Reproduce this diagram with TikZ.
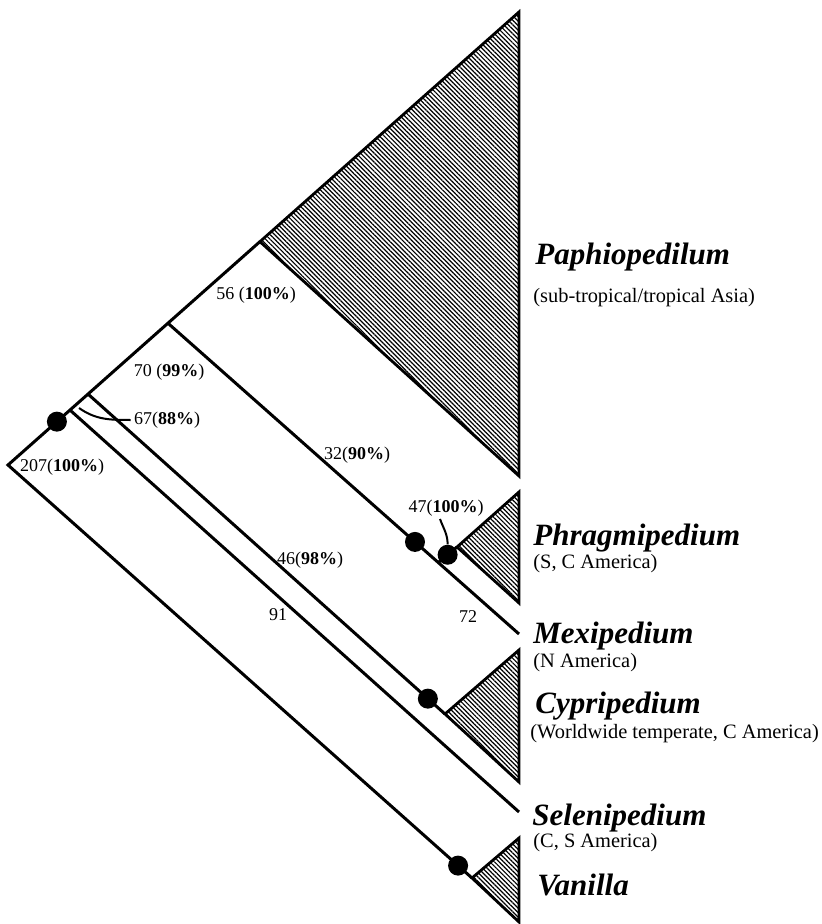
\documentclass[tikz,border=0pt]{standalone}
\usepackage{fontspec}
\setmainfont{Liberation Serif}
\usepackage{tikz}
\usetikzlibrary{calc,patterns.meta}
\definecolor{ink}{RGB}{0,0,0}

\tikzset{
    branch/.style={draw=ink, line width=1.5pt},
    clade/.style={draw=ink, line width=1.4pt, line join=miter,
        pattern={Lines[angle=-45,distance=1.6pt,line width=0.6pt]}, pattern color=ink},
    syn/.style={circle, fill=ink, inner sep=0pt, minimum size=10pt},
    supp/.style={font=\fontsize{9}{10}\selectfont, inner sep=1.5pt},
    taxon/.style={font=\fontsize{15.5}{18}\selectfont\bfseries\itshape, anchor=base west, inner sep=0pt},
    distrib/.style={font=\fontsize{10.2}{12}\selectfont, anchor=base west, inner sep=0pt},
    leader/.style={draw=ink, line width=1pt}
}

\begin{document}
\begin{tikzpicture}[x=0.5pt,y=-0.5pt]
    \useasboundingbox (0,0) rectangle (822,924);
    % spine and the points on it
    \coordinate (root) at (8,465);
    \coordinate (ptop) at (519,12);
    \coordinate (nA) at ($(root)!0.0957!(ptop)$);
    \coordinate (nS) at ($(root)!0.1213!(ptop)$);
    \coordinate (nC) at ($(root)!0.1566!(ptop)$);
    \coordinate (nM) at ($(root)!0.313!(ptop)$);
    \coordinate (nP) at ($(root)!0.493!(ptop)$);
    % tips
    \coordinate (vV) at (472,878);
    \coordinate (send) at (519,812);
    \coordinate (vC) at (445,714);
    \coordinate (mend) at (519,634);
    \coordinate (J) at ($(nM)!0.77!(mend)$);
    \coordinate (vPh) at (457,547);

    % clades
    \draw[clade] (nP) -- (ptop) -- (519,476) -- cycle;
    \draw[clade] (vPh) -- (519,492) -- (519,603) -- cycle;
    \draw[clade] (vC) -- (519,650) -- (519,782) -- cycle;
    \draw[clade] (vV) -- (519,838) -- (519,922) -- cycle;

    % branches
    \draw[branch] (vV) -- (root) -- (nP);
    \draw[branch] (nS) -- (send);
    \draw[branch] (nC) -- (vC);
    \draw[branch] (nM) -- (mend);
    \draw[branch] (J) -- (vPh);

    % dots
    \node[syn] (dA) at (nA) {};
    \node[syn] (dM) at ($(nM)!0.7037!(mend)$) {};
    \node[syn] (dPh) at ($(J)!0.5!(vPh)$) {};
    \node[syn] (dC) at ($(nC)!0.952!(vC)$) {};
    \node[syn] (dV) at ($(root)!0.97!(vV)$) {};

    % branch support
    \node[supp] (l207) at (62,467) {207(\textbf{100\%})};
    \node[supp] (l56) at (256,295) {56 (\textbf{100\%})};
    \node[supp] (l70) at (169,372) {70 (\textbf{99\%})};
    \node[supp] (l67) at (167,420) {67(\textbf{88\%})};
    \node[supp] (l32) at (357,455) {32(\textbf{90\%})};
    \node[supp] (l47) at (446,508) {47(\textbf{100\%})};
    \node[supp] (l46) at (310,560) {46(\textbf{98\%})};
    \node[supp] (l91) at (278,615) {91};
    \node[supp] (l72) at (468,617) {72};

    \coordinate (k67) at (79,408);
    \draw[leader] (k67) to[out=-35,in=180] (l67.west);
    \coordinate (k47) at (440,519);
    \draw[leader] (k47) to[out=-70,in=90] (dPh.north);

    % genera
    \node[taxon] (paph) at (535,265) {Paphiopedilum};
    \node[distrib] (paphR) at (533,303) {(sub-tropical/tropical Asia)};
    \node[taxon] (phrag) at (533,545) {Phragmipedium};
    \node[distrib] (phragR) at (533,568) {(S, C America)};
    \node[taxon] (mexi) at (533,643) {Mexipedium};
    \node[distrib] (mexiR) at (533,667) {(N America)};
    \node[taxon] (cyp) at (535,713) {Cypripedium};
    \node[distrib] (cypR) at (530,738) {(Worldwide temperate, C America)};
    \node[taxon] (sele) at (532,825) {Selenipedium};
    \node[distrib] (seleR) at (533,847) {(C, S America)};
    \node[taxon] (van) at (537,895) {Vanilla};
\end{tikzpicture}
\end{document}
